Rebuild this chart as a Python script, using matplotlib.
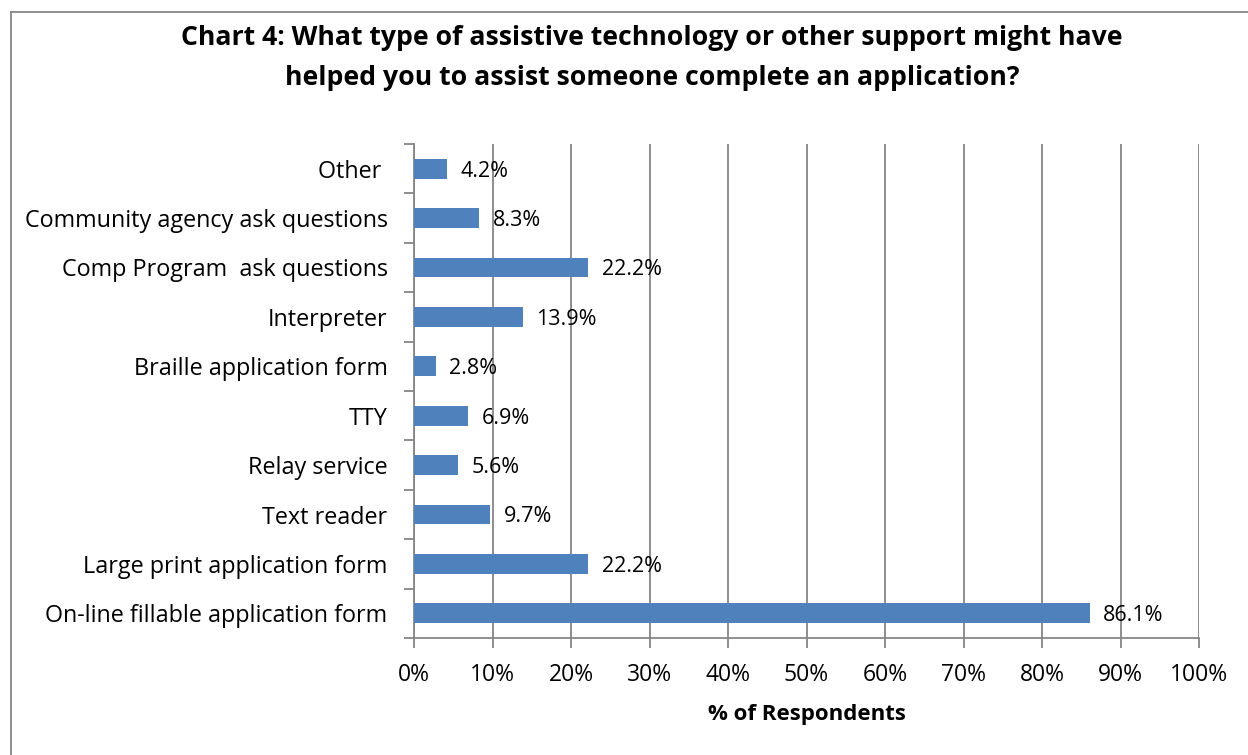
import numpy as np
import matplotlib
matplotlib.use('Agg')
import matplotlib.pyplot as plt
from matplotlib.lines import Line2D

categories = [
    "Other ",
    "Community agency ask questions",
    "Comp Program  ask questions",
    "Interpreter",
    "Braille application form",
    "TTY",
    "Relay service",
    "Text reader",
    "Large print application form",
    "On-line fillable application form",
]
values = [4.2, 8.3, 22.2, 13.9, 2.8, 6.9, 5.6, 9.7, 22.2, 86.1]
xticks = list(range(0, 101, 10))
xtick_labels = [f"{t}%" for t in xticks]

plt.rcParams['font.family'] = ['Open Sans', 'DejaVu Sans']

W, H = 1248, 755
fig = plt.figure(figsize=(W / 100, H / 100), dpi=100)
ax = fig.add_axes([414 / W, 1 - 638 / H, (1199 - 414) / W, (638 - 144) / H])

grid_c = '#868686'
y = np.arange(len(categories))[::-1]
ax.barh(y, values, height=0.4, color='#4F81BD', zorder=3)
for yi, v in zip(y, values):
    ax.text(v + 1.7, yi - 0.05, f"{v:.1f}%", va='center', ha='left', fontsize=15.5, zorder=4)

ax.set_xlim(0, 100)
ax.set_ylim(-0.5, len(categories) - 0.5)
ax.set_xticks(xticks)
ax.set_xticklabels(xtick_labels, fontsize=16.5)
ax.set_yticks(y)
ax.set_yticklabels(categories, fontsize=16.8)
ax.set_yticks(np.arange(-0.5, len(categories), 1), minor=True)
ax.tick_params(axis='y', which='major', length=0, pad=19)
ax.tick_params(axis='y', which='minor', length=7, color=grid_c, width=1.3)
ax.tick_params(axis='x', length=7, color=grid_c, width=1.3, pad=11)

ax.grid(axis='x', color=grid_c, linewidth=1.3, zorder=0)
for s in ['top', 'right']:
    ax.spines[s].set_visible(False)
for s in ['left', 'bottom']:
    ax.spines[s].set_color(grid_c)
    ax.spines[s].set_linewidth(1.3)

ax.set_xlabel("% of Respondents", fontsize=16, fontweight='bold', labelpad=12)

fig.text(652 / W, 1 - 58 / H,
         "Chart 4: What type of assistive technology or other support might have\n"
         "helped you to assist someone complete an application?",
         ha='center', va='center', fontsize=19.2, fontweight='bold', linespacing=1.68)

# outer chart border
fig.add_artist(Line2D([11 / W, 11 / W], [0, 1 - 12 / H], transform=fig.transFigure,
                      color='#868686', linewidth=1.3))
fig.add_artist(Line2D([11 / W, 1], [1 - 12 / H, 1 - 12 / H], transform=fig.transFigure,
                      color='#868686', linewidth=1.3))

fig.savefig("out.png", dpi=100)
